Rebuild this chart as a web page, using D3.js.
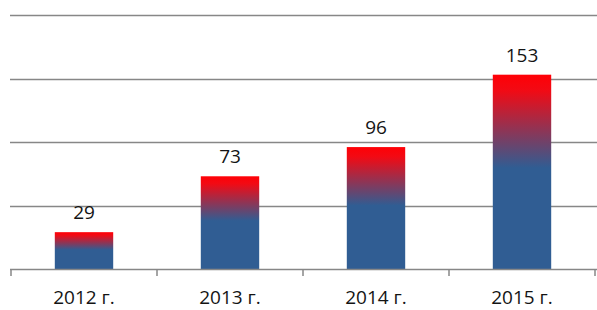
<!DOCTYPE html>
<html>
<head>
<meta charset="utf-8">
<script src="https://cdn.jsdelivr.net/npm/d3@7"></script>
<style>
  body { margin: 0; background: #fff; }
  text { font-family: "Open Sans", sans-serif; fill: #141414; }
</style>
</head>
<body>
<div id="chart"></div>
<script>
// data
var years = ["2012 г.", "2013 г.", "2014 г.", "2015 г."];
var values = [29, 73, 96, 153];
var gridTicks = [0, 50, 100, 150, 200];

var width = 597, height = 310;

var svg = d3.select('#chart')
  .append('svg')
  .attr('width', width)
  .attr('height', height);

var x = d3.scaleBand()
  .domain(years)
  .range([11, 595])
  .paddingInner(0.6)
  .paddingOuter(0.3);

var y = d3.scaleLinear()
  .domain([0, 200])
  .range([269, 15]);

// gradient red on top -> blue
var grad = svg.append('defs').append('linearGradient')
  .attr('id', 'barGrad')
  .attr('x1', 0).attr('y1', 0)
  .attr('x2', 0).attr('y2', 1);
grad.append('stop').attr('offset', '0%').attr('stop-color', '#ff0006');
grad.append('stop').attr('offset', '8%').attr('stop-color', '#f20a14');
grad.append('stop').attr('offset', '48%').attr('stop-color', '#305d93');
grad.append('stop').attr('offset', '100%').attr('stop-color', '#305d93');

// gridlines
svg.append('g')
  .selectAll('line')
  .data(gridTicks.slice(1))
  .enter()
  .append('line')
  .attr('x1', 10)
  .attr('x2', width)
  .attr('y1', function(d) { return Math.round(y(d)) + 0.5; })
  .attr('y2', function(d) { return Math.round(y(d)) + 0.5; })
  .attr('stroke', '#878787')
  .attr('stroke-width', 1.5);

// bars
svg.selectAll('rect.bar')
  .data(values)
  .enter()
  .append('rect')
  .attr('class', 'bar')
  .attr('x', function(d, i) { return x(years[i]); })
  .attr('width', x.bandwidth())
  .attr('y', function(d) { return y(d); })
  .attr('height', function(d) { return y(0) - y(d); })
  .attr('fill', 'url(#barGrad)');

// value labels
svg.selectAll('text.val')
  .data(values)
  .enter()
  .append('text')
  .attr('class', 'val')
  .attr('x', function(d, i) { return x(years[i]) + x.bandwidth() / 2; })
  .attr('y', function(d) { return y(d) - 13; })
  .attr('text-anchor', 'middle')
  .style('font-size', '19px')
  .text(function(d) { return d; });

// x axis: baseline, ticks between categories
var axis = svg.append('g');
axis.append('line')
  .attr('x1', 10).attr('x2', width)
  .attr('y1', y(0) + 0.5).attr('y2', y(0) + 0.5)
  .attr('stroke', '#878787')
  .attr('stroke-width', 1.5);

var edges = d3.range(years.length + 1).map(function(i) { return 11 + i * (584 / years.length); });
axis.selectAll('line.tick')
  .data(edges)
  .enter()
  .append('line')
  .attr('class', 'tick')
  .attr('x1', function(d) { return d; })
  .attr('x2', function(d) { return d; })
  .attr('y1', y(0))
  .attr('y2', y(0) + 7)
  .attr('stroke', '#878787')
  .attr('stroke-width', 1.5);

axis.selectAll('text.cat')
  .data(years)
  .enter()
  .append('text')
  .attr('class', 'cat')
  .attr('x', function(d) { return x(d) + x.bandwidth() / 2; })
  .attr('y', 304)
  .attr('text-anchor', 'middle')
  .style('font-size', '19px')
  .text(function(d) { return d; });
</script>
</body>
</html>
